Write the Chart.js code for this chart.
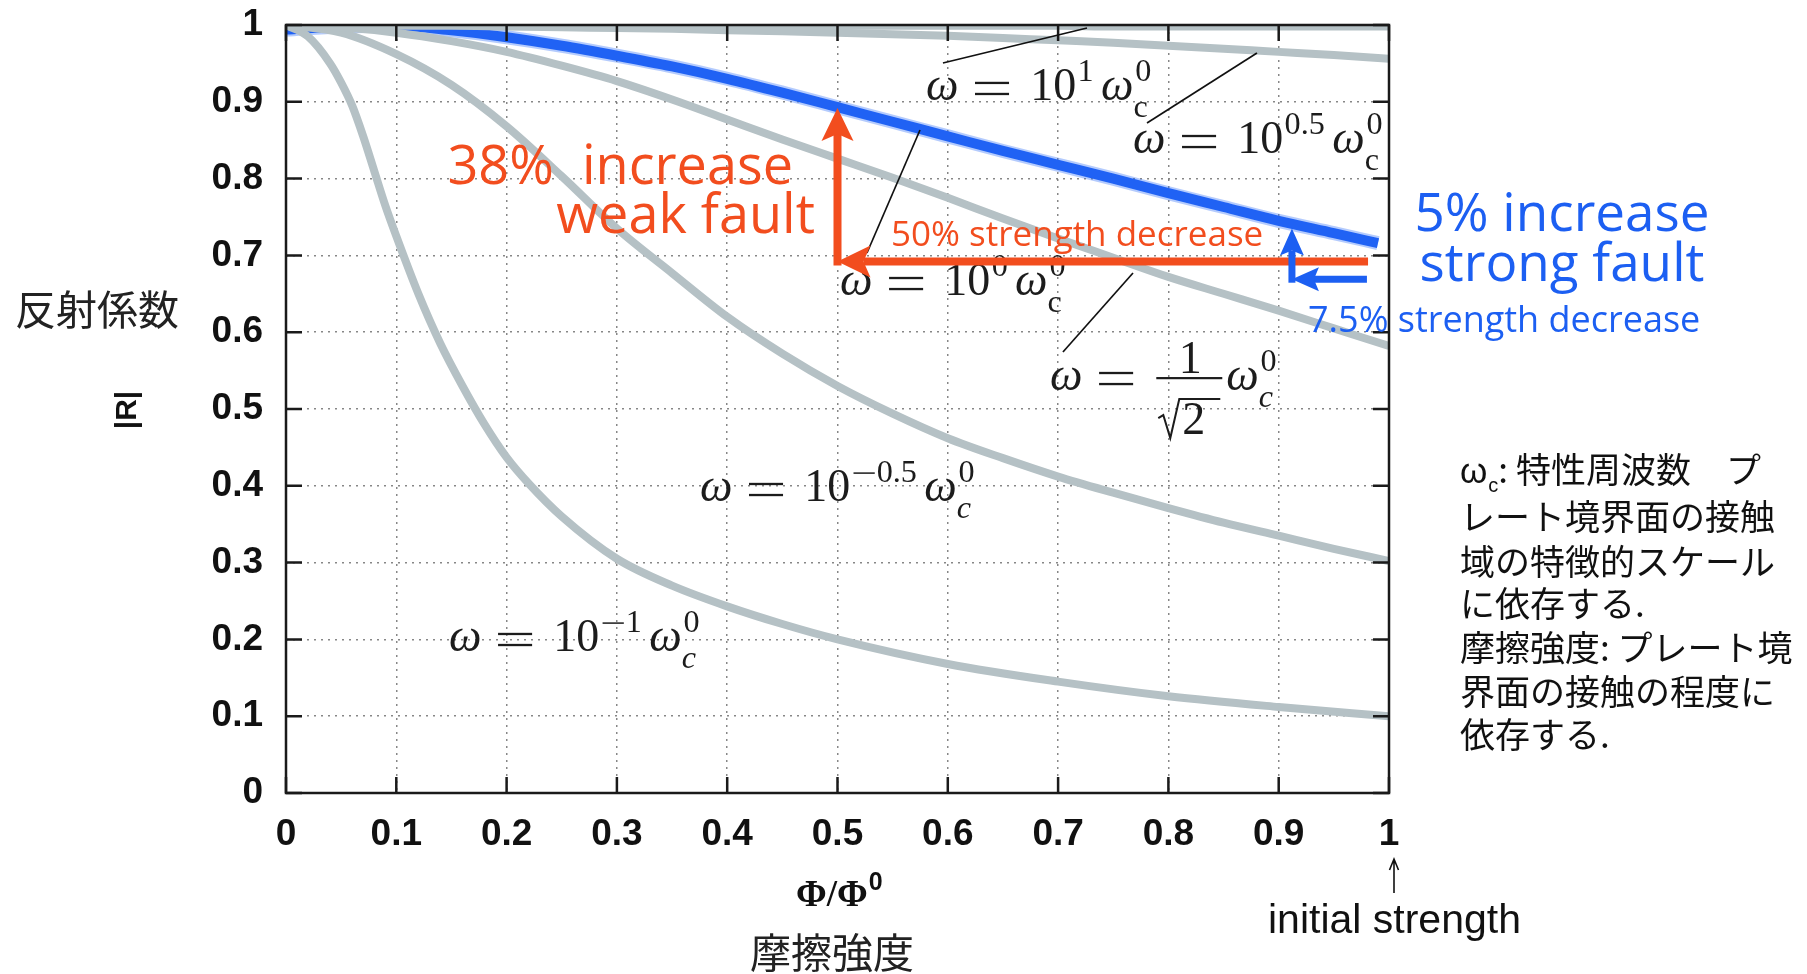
<!DOCTYPE html>
<html>
<head>
<meta charset="utf-8">
<script src="https://cdn.jsdelivr.net/npm/chart.js@4.4.1/dist/chart.umd.min.js"></script>
<style>
  html, body { margin: 0; padding: 0; background: #ffffff; }
  #wrap { position: relative; width: 1807px; height: 974px; }
</style>
</head>
<body>
<div id="wrap"><canvas id="c"></canvas></div>
<script>
// Φ/Φ0 sample points
const phi      = [0, 0.05, 0.1, 0.15, 0.2, 0.25, 0.3, 0.35, 0.4, 0.45, 0.5, 0.55, 0.6, 0.65, 0.7, 0.75, 0.8, 0.85, 0.9, 0.95, 1];
const phiBlue  = [0, 0.05, 0.1, 0.15, 0.2, 0.25, 0.3, 0.35, 0.4, 0.45, 0.5, 0.55, 0.6, 0.65, 0.7, 0.75, 0.8, 0.85, 0.9, 0.95, 0.99];
const phiFine  = [0, 0.02, 0.04, 0.05, 0.06, 0.07, 0.08, 0.09, 0.1, 0.12, 0.14, 0.16, 0.18, 0.2, 0.22, 0.25, 0.3, 0.35, 0.4, 0.45, 0.5, 0.6, 0.7, 0.8, 0.9, 1];

// |R| for each frequency ω / ω_c^0
const rOmega10       = [1.000, 1.000, 1.000, 1.000, 1.000, 1.000, 0.999, 0.999, 0.999, 0.999, 0.999, 0.999, 0.999, 0.999, 0.999, 0.998, 0.998, 0.998, 0.998, 0.998, 0.998];
const rOmega10half   = [1.000, 1.000, 0.999, 0.999, 0.998, 0.997, 0.996, 0.995, 0.993, 0.992, 0.990, 0.988, 0.986, 0.983, 0.980, 0.977, 0.973, 0.969, 0.965, 0.961, 0.956];
const rOmega1        = [0.994, 0.998, 0.999, 0.993, 0.984, 0.973, 0.960, 0.946, 0.930, 0.912, 0.893, 0.874, 0.855, 0.836, 0.818, 0.800, 0.781, 0.763, 0.745, 0.729, 0.716];
const rOmegaInvSqrt2 = [1.000, 0.997, 0.990, 0.979, 0.965, 0.947, 0.927, 0.903, 0.877, 0.851, 0.826, 0.801, 0.775, 0.748, 0.722, 0.697, 0.672, 0.650, 0.628, 0.605, 0.582];
const rOmega10mHalf  = [1.000, 0.990, 0.962, 0.922, 0.868, 0.803, 0.735, 0.677, 0.620, 0.572, 0.530, 0.494, 0.462, 0.436, 0.412, 0.391, 0.371, 0.352, 0.335, 0.318, 0.302];
const rOmega10m1     = [1.000, 0.985, 0.950, 0.925, 0.895, 0.855, 0.810, 0.765, 0.725, 0.650, 0.585, 0.530, 0.480, 0.437, 0.403, 0.360, 0.305, 0.270, 0.243, 0.220, 0.200, 0.168, 0.145, 0.126, 0.112, 0.100];

// strength-change arrows: [start, corner, tip]
const weakArrowPhi   = [0.981, 0.5, 0.5];
const weakArrowR     = [0.692, 0.692, 0.892];
const strongArrowPhi = [0.980, 0.912, 0.912];
const strongArrowR   = [0.669, 0.669, 0.735];

// axis ticks
const tickStep = 0.1;
const tickLabel = v => String(Number(v.toFixed(1)));

const toXY = (xs, ys) => xs.map((v, i) => ({ x: v, y: ys[i] }));

const GRAY = '#b5c1c5';
const BLUE = '#1c5ff2';
const RED = '#f24d1e';
const INK = '#1a1a1a';
const SERIF = '"Liberation Serif", "DejaVu Serif", serif';
const SANS = '"Liberation Sans", Arial, sans-serif';
const GILL = '"Open Sans", "Lato", sans-serif';
const CJK = '"Noto Sans CJK JP", "Noto Sans CJK SC", sans-serif';

function curve(label, xs, ys, color, width) {
  return {
    label, data: toXY(xs, ys), borderColor: color, borderWidth: width,
    pointRadius: 0, fill: false, showLine: true,
    cubicInterpolationMode: 'monotone', borderCapStyle: 'butt'
  };
}

// text in the math font; a '−' is drawn as a rule so it has the TeX width
function mathText(ctx, txt, x, base, size, italic) {
  ctx.font = `${italic ? 'italic ' : ''}${size}px ${SERIF}`;
  for (const ch of txt) {
    if (ch === '−') {
      ctx.fillRect(x + 0.06 * size, base - 0.25 * size - 0.04 * size, 0.66 * size, Math.max(1.5, 0.045 * size));
      x += 0.78 * size;
    } else {
      ctx.fillText(ch, x, base);
      x += ctx.measureText(ch).width;
    }
  }
  return x;
}

// math label pieces: ['i', txt] italic, ['r', txt] roman, ['eq'] '=', ['sup', txt], ['ss', sub, sup, subItalic]
function drawMath(ctx, x, base, S, items) {
  ctx.textAlign = 'left';
  ctx.textBaseline = 'alphabetic';
  for (const it of items) {
    const k = it[0];
    if (k === 'i' || k === 'r') {
      x = mathText(ctx, it[1], x, base, S, k === 'i');
    } else if (k === 'eq') {
      x += 0.36 * S;
      const h = Math.max(1.6, 0.05 * S);
      ctx.fillRect(x, base - 0.25 * S - 0.12 * S - h / 2, 0.74 * S, h);
      ctx.fillRect(x, base - 0.25 * S + 0.12 * S - h / 2, 0.74 * S, h);
      x += 0.74 * S + 0.46 * S;
    } else if (k === 'sup') {
      x = mathText(ctx, it[1], x + 0.03 * S, base - 0.42 * S, 0.7 * S, false) + 0.16 * S;
    } else if (k === 'ss') {
      const s = 0.7 * S;
      const e1 = mathText(ctx, it[1], x, base + 0.36 * S, s, it[3]);
      const e2 = mathText(ctx, it[2], x + 0.04 * S, base - 0.42 * S, s, false);
      x = Math.max(e1, e2);
    }
  }
  return x;
}

function arrowHead(ctx, tx, ty, dx, dy, len, half, notch) {
  const bx = tx - dx * len, by = ty - dy * len;
  const nx = -dy, ny = dx;
  ctx.beginPath();
  ctx.moveTo(tx, ty);
  ctx.lineTo(bx + nx * half, by + ny * half);
  ctx.lineTo(tx - dx * (len - notch), ty - dy * (len - notch));
  ctx.lineTo(bx - nx * half, by - ny * half);
  ctx.closePath();
  ctx.fill();
}

function drawElbowArrow(ctx, X, Y, xs, ys, color, w, len, half, notch) {
  const x0 = X(xs[0]), y0 = Y(ys[0]);
  const xc = X(xs[1]), yc = Y(ys[1]);
  const xt = X(xs[2]), yt = Y(ys[2]);
  ctx.fillStyle = color;
  ctx.strokeStyle = color;
  ctx.lineWidth = w;
  ctx.lineCap = 'butt';
  // horizontal shaft pointing left to the corner
  ctx.beginPath();
  ctx.moveTo(x0, y0);
  ctx.lineTo(xc + len - notch, yc);
  ctx.stroke();
  arrowHead(ctx, xc, yc, -1, 0, len, half, notch);
  // vertical shaft pointing up to the tip
  ctx.beginPath();
  ctx.moveTo(xc, yc + w / 2);
  ctx.lineTo(xt, yt + len - notch);
  ctx.stroke();
  arrowHead(ctx, xt, yt, 0, -1, len, half, notch);
}

const frameAndTicks = {
  id: 'frameAndTicks',
  afterDatasetsDraw(chart) {
    const { ctx, chartArea: a, scales: { x, y } } = chart;
    ctx.save();
    ctx.strokeStyle = INK;
    ctx.lineWidth = 2.5;
    ctx.beginPath();
    x.ticks.forEach(t => {
      const px = x.getPixelForValue(t.value);
      ctx.moveTo(px, a.bottom); ctx.lineTo(px, a.bottom - 16);
      ctx.moveTo(px, a.top); ctx.lineTo(px, a.top + 16);
    });
    y.ticks.forEach(t => {
      const py = y.getPixelForValue(t.value);
      ctx.moveTo(a.left, py); ctx.lineTo(a.left + 16, py);
      ctx.moveTo(a.right, py); ctx.lineTo(a.right - 16, py);
    });
    ctx.stroke();
    ctx.strokeRect(a.left, a.top, a.right - a.left, a.bottom - a.top);
    ctx.restore();
  }
};

const annotations = {
  id: 'annotations',
  afterDraw(chart) {
    const { ctx, scales: { x, y } } = chart;
    const X = v => x.getPixelForValue(v), Y = v => y.getPixelForValue(v);
    ctx.save();

    // pointer lines from labels to curves
    ctx.strokeStyle = '#111';
    ctx.lineWidth = 1.7;
    [[0.5956, 0.9505, 0.7262, 0.9961],
     [0.7806, 0.8724, 0.8803, 0.9635],
     [0.5267, 0.7031, 0.5748, 0.8633],
     [0.7044, 0.5742, 0.7679, 0.6771]].forEach(([x1, y1, x2, y2]) => {
      ctx.beginPath(); ctx.moveTo(X(x1), Y(y1)); ctx.lineTo(X(x2), Y(y2)); ctx.stroke();
    });

    // curve labels
    ctx.fillStyle = '#1c1c1c';
    const S = 46;
    drawMath(ctx, X(0.5802), Y(0.9024), S, [['i', 'ω'], ['eq'], ['r', '10'], ['sup', '1'], ['i', 'ω'], ['ss', 'c', '0', false]]);
    drawMath(ctx, X(0.7679), Y(0.8333), S, [['i', 'ω'], ['eq'], ['r', '10'], ['sup', '0.5'], ['i', 'ω'], ['ss', 'c', '0', false]]);
    drawMath(ctx, X(0.5023), Y(0.6484), S, [['i', 'ω'], ['eq'], ['r', '10'], ['sup', '0'], ['i', 'ω'], ['ss', 'c', '0', false]]);
    drawMath(ctx, X(0.3753), Y(0.3802), S, [['i', 'ω'], ['eq'], ['r', '10'], ['sup', '−0.5'], ['i', 'ω'], ['ss', 'c', '0', true]]);
    drawMath(ctx, X(0.1478), Y(0.1849), S, [['i', 'ω'], ['eq'], ['r', '10'], ['sup', '−1'], ['i', 'ω'], ['ss', 'c', '0', true]]);

    // ω = (1/√2) ω_c^0
    {
      const ox = X(0.6927), base = Y(0.5247);
      const cx = drawMath(ctx, ox, base, S, [['i', 'ω'], ['eq']]);
      const fx = cx + 2, fw = 66, bar = base - 12;
      ctx.fillRect(fx, bar - 1, fw, 2.2);
      ctx.font = `${S}px ${SERIF}`;
      ctx.textAlign = 'center';
      ctx.fillText('1', fx + fw / 2 + 1, bar - 5);
      ctx.textAlign = 'left';
      ctx.fillText('2', fx + 26, base + 44);
      // radical sign
      ctx.lineWidth = 2;
      ctx.strokeStyle = '#1c1c1c';
      ctx.lineJoin = 'miter';
      ctx.beginPath();
      ctx.moveTo(fx + 2, base + 28);
      ctx.lineTo(fx + 7, base + 25);
      ctx.lineTo(fx + 14, base + 48);
      ctx.lineTo(fx + 23, base + 9);
      ctx.lineTo(fx + fw - 2, base + 9);
      ctx.stroke();
      drawMath(ctx, fx + fw + 4, base, S, [['i', 'ω'], ['ss', 'c', '0', true]]);
    }

    // red: weak fault
    drawElbowArrow(ctx, X, Y, weakArrowPhi, weakArrowR, RED, 8, 33, 16, 7);
    ctx.fillStyle = RED;
    ctx.textBaseline = 'alphabetic';
    ctx.font = `54px ${GILL}`;
    ctx.textAlign = 'right';
    ctx.fillText('38%  increase', 793, 184);
    ctx.fillText('weak fault', 815, 233);
    ctx.textAlign = 'left';
    ctx.font = `35px ${GILL}`;
    ctx.fillText('50% strength decrease', 891, 246);

    // blue: strong fault
    drawElbowArrow(ctx, X, Y, strongArrowPhi, strongArrowR, BLUE, 7, 27, 12, 5);
    ctx.fillStyle = BLUE;
    ctx.font = `53px ${GILL}`;
    ctx.textAlign = 'center';
    ctx.fillText('5% increase', 1562, 231);
    ctx.fillText('strong fault', 1562, 281);
    ctx.textAlign = 'left';
    ctx.font = `36px ${GILL}`;
    ctx.fillText('7.5% strength decrease', 1308, 332);

    // axis titles
    ctx.fillStyle = '#111';
    ctx.font = `bold 37px ${SERIF}`;
    ctx.textAlign = 'left';
    let tx = 796;
    ctx.fillText('Φ/Φ', tx, 906);
    tx += ctx.measureText('Φ/Φ').width + 1;
    ctx.font = `bold 25px ${SANS}`;
    ctx.fillText('0', tx, 890);
    ctx.fillStyle = '#222';
    ctx.font = `41px ${CJK}`;
    ctx.textAlign = 'center';
    ctx.textBaseline = 'middle';
    ctx.fillText('摩擦強度', 832, 952);
    ctx.fillText('反射係数', 97, 309);
    ctx.save();
    ctx.translate(128, 410);
    ctx.rotate(-Math.PI / 2);
    ctx.fillStyle = '#111';
    ctx.font = `bold 30px ${SANS}`;
    ctx.fillText('|R|', 0, 0);
    ctx.restore();

    // initial strength marker
    ctx.strokeStyle = '#111';
    ctx.lineWidth = 1.6;
    ctx.beginPath();
    ctx.moveTo(1394, 893); ctx.lineTo(1394, 860);
    ctx.moveTo(1389.5, 870); ctx.lineTo(1394, 859); ctx.lineTo(1398.5, 870);
    ctx.stroke();
    ctx.fillStyle = '#111';
    ctx.textAlign = 'left';
    ctx.textBaseline = 'alphabetic';
    ctx.font = `41px ${SANS}`;
    ctx.fillText('initial strength', 1268, 933);

    // notes on ω_c and friction strength
    const nx = 1460;
    const lines = ['レート境界面の接触', '域の特徴的スケール', 'に依存する.', '摩擦強度: プレート境', '界面の接触の程度に', '依存する.'];
    const bases = [530, 575, 617, 661, 705, 748];
    ctx.font = `35px ${SANS}`;
    ctx.fillText('ω', nx, 483);
    let wx = nx + ctx.measureText('ω').width + 1;
    ctx.font = `20px ${SANS}`;
    ctx.fillText('c', wx, 492);
    wx += ctx.measureText('c').width;
    ctx.font = `35px ${CJK}`;
    ctx.fillText(': 特性周波数　プ', wx, 483);
    lines.forEach((t, i) => ctx.fillText(t, nx, bases[i]));

    ctx.restore();
  }
};

// tick labels are pushed away from the frame with an invisible tick mark,
// so the label gap does not enlarge the plot's top margin
const hiddenTicks = len => ({
  color: 'rgba(105,105,105,0.8)', lineWidth: 1.5,
  drawTicks: true, tickLength: len, tickColor: 'rgba(0,0,0,0)'
});

const chart = new Chart(document.getElementById('c').getContext('2d'), {
  type: 'scatter',
  data: {
    datasets: [
      curve('ω = 10^1 ω_c^0', phi, rOmega10, GRAY, 8),
      curve('ω = 10^0.5 ω_c^0', phi, rOmega10half, GRAY, 8),
      curve('ω = ω_c^0 / √2', phi, rOmegaInvSqrt2, GRAY, 8),
      curve('ω = 10^-0.5 ω_c^0', phi, rOmega10mHalf, GRAY, 8),
      curve('ω = 10^-1 ω_c^0', phiFine, rOmega10m1, GRAY, 8),
      curve('ω = 10^0 ω_c^0 (halo)', phiBlue, rOmega1, 'rgba(40,105,250,0.35)', 14),
      curve('ω = 10^0 ω_c^0', phiBlue, rOmega1, BLUE, 10)
    ]
  },
  options: {
    responsive: true,
    maintainAspectRatio: false,
    animation: false,
    events: [],
    layout: { padding: { left: 0, top: 25, right: 418, bottom: 0 } },
    plugins: { legend: { display: false }, tooltip: { enabled: false } },
    scales: {
      x: {
        type: 'linear', min: 0, max: 1,
        afterFit: s => { s.height = 181; },
        grid: hiddenTicks(20),
        border: { display: false, dash: [2, 5] },
        ticks: {
          stepSize: tickStep, padding: 0, maxRotation: 0, autoSkip: false,
          color: '#111', font: { family: SANS, size: 37, weight: 'bold' },
          callback: v => tickLabel(v)
        }
      },
      y: {
        type: 'linear', min: 0, max: 1,
        afterFit: s => { s.width = 286; },
        grid: hiddenTicks(23),
        border: { display: false, dash: [2, 5] },
        ticks: {
          stepSize: tickStep, padding: 0, autoSkip: false,
          color: '#111', font: { family: SANS, size: 37, weight: 'bold' },
          callback: v => tickLabel(v)
        }
      }
    }
  },
  plugins: [frameAndTicks, annotations]
});

// settle the plot frame at its intended edges (top 25, right 1389)
const pad = chart.options.layout.padding;
pad.top += 25 - chart.chartArea.top;
pad.right += chart.chartArea.right - 1389;
chart.update();
</script>
</body>
</html>
